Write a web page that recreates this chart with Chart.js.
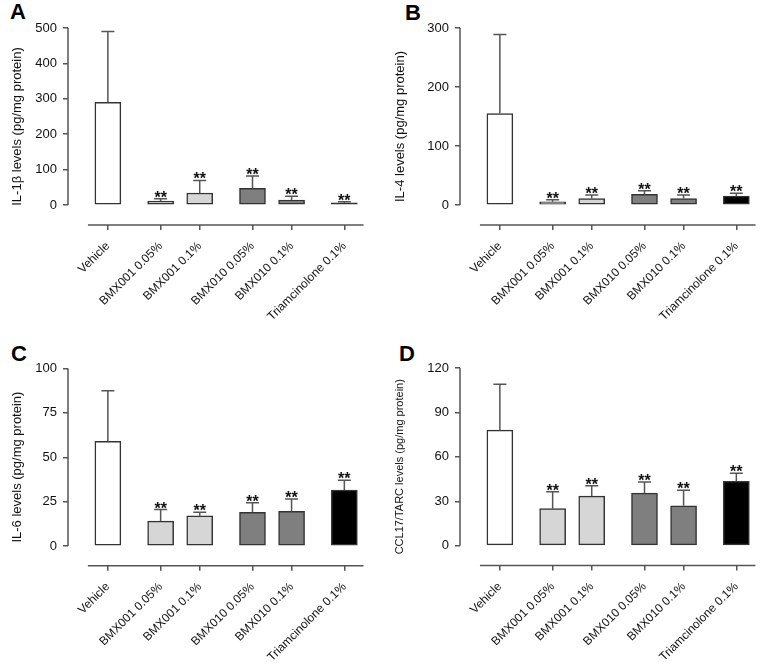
<!DOCTYPE html>
<html>
<head>
<meta charset="utf-8">
<script src="https://cdn.jsdelivr.net/npm/chart.js@4.4.0/dist/chart.umd.min.js"></script>
<style>
  body { margin: 0; background: #fff; width: 766px; height: 666px; position: relative; overflow: hidden;
         font-family: "Liberation Sans", Arial, sans-serif; }
  canvas { position: absolute; }
  .letter { position: absolute; font-size: 22px; line-height: 22px; font-weight: bold; color: #000; }
</style>
</head>
<body>
<div class="letter" style="left:10px;top:1px">A</div>
<div class="letter" style="left:405px;top:2px">B</div>
<div class="letter" style="left:11px;top:343px">C</div>
<div class="letter" style="left:399px;top:343px">D</div>
<canvas id="chartA" width="383" height="333" style="left:0;top:0"></canvas>
<canvas id="chartB" width="383" height="333" style="left:383px;top:0"></canvas>
<canvas id="chartC" width="383" height="333" style="left:0;top:333px"></canvas>
<canvas id="chartD" width="383" height="333" style="left:383px;top:333px"></canvas>
<script>
const categories = ['Vehicle', 'BMX001 0.05%', 'BMX001 0.1%', 'BMX010 0.05%', 'BMX010 0.1%', 'Triamcinolone 0.1%'];
// treatment group of each category (bars of one group sit closer together)
const groups = [0, 1, 1, 2, 2, 3];
const stars = ['', '**', '**', '**', '**', '**'];

const il1bMean = [290, 11, 34, 47, 14, 6];
const il1bErr  = [200, 7, 35.5, 35, 10.5, 3];
const il4Mean  = [155, 5.5, 11, 18, 11, 15];
const il4Err   = [134, 3.5, 6, 6, 6, 5];
const il6Mean  = [59, 14, 17, 19, 19.5, 31.5];
const il6Err   = [28.5, 6.5, 2, 5.4, 7, 5.6];
const ccl17Mean = [78, 25, 33.5, 35.5, 27, 43.5];
const ccl17Err  = [31, 11.5, 7, 7.5, 10.5, 5.5];

const il1bTicks = [0, 100, 200, 300, 400, 500];
const il4Ticks  = [0, 100, 200, 300];
const il6Ticks  = [0, 25, 50, 75, 100];
const ccl17Ticks = [0, 30, 60, 90, 120];

const barColors = ['#ffffff', '#d6d6d6', '#d6d6d6', '#7f7f7f', '#7f7f7f', '#000000'];
const groupGap = 0.35;
const xPos = categories.map((c, i) => i + groups[i] * groupGap);

const extras = {
  id: 'extras',
  afterDatasetsDraw(chart) {
    const p = chart.options.plugins.extras;
    const {ctx, chartArea} = chart;
    const x = chart.scales.x, y = chart.scales.y;
    ctx.save();
    ctx.strokeStyle = '#555';
    ctx.lineWidth = 1.5;
    ctx.beginPath();
    ctx.moveTo(chartArea.left, y.getPixelForValue(0));
    ctx.lineTo(chartArea.left, y.getPixelForValue(y.max));
    ctx.moveTo(x.getPixelForValue(-0.51), chartArea.bottom);
    ctx.lineTo(x.getPixelForValue(x.max), chartArea.bottom);
    ctx.stroke();

    ctx.fillStyle = '#111';
    ctx.font = 'bold 16px "Liberation Sans", Arial, sans-serif';
    ctx.textAlign = 'center';
    ctx.textBaseline = 'alphabetic';
    p.means.forEach((m, i) => {
      const px = x.getPixelForValue(xPos[i]);
      const y0 = y.getPixelForValue(m);
      const y1 = y.getPixelForValue(m + p.errs[i]);
      ctx.beginPath();
      ctx.moveTo(px, y0);
      ctx.lineTo(px, y1);
      ctx.moveTo(px - 6.5, y1);
      ctx.lineTo(px + 6.5, y1);
      ctx.stroke();
      if (stars[i]) ctx.fillText(stars[i], px, y1 + 4);
    });
    ctx.restore();
  }
};

function makePanel(id, cfg) {
  const yMin = -cfg.yMax * (cfg.bottom - cfg.zero) / (cfg.zero - cfg.top);
  new Chart(document.getElementById(id), {
    type: 'bar',
    data: {
      datasets: [{
        data: categories.map((c, i) => ({x: xPos[i], y: cfg.means[i]})),
        backgroundColor: barColors,
        borderColor: '#333',
        borderWidth: 1.5,
        borderSkipped: false,
        barThickness: 26
      }]
    },
    options: {
      responsive: false,
      animation: false,
      layout: {padding: {top: cfg.top, right: 383 - cfg.right, left: 0, bottom: 0}},
      plugins: {
        legend: {display: false},
        tooltip: {enabled: false},
        extras: {means: cfg.means, errs: cfg.errs}
      },
      scales: {
        x: {
          type: 'linear',
          offset: false,
          min: -1.02,
          max: 6.54,
          afterBuildTicks: s => { s.ticks = xPos.map(v => ({value: v})); },
          afterFit: s => { s.height = 333 - cfg.bottom; },
          border: {display: false},
          grid: {offset: false, drawOnChartArea: false, drawTicks: true, tickLength: 5, color: '#555', lineWidth: 1.5},
          ticks: {
            autoSkip: false, minRotation: 45, maxRotation: 45, padding: 9,
            color: '#111', font: {size: 12, family: '"Liberation Sans", Arial, sans-serif'},
            callback: (v, i) => categories[i]
          }
        },
        y: {
          min: yMin,
          max: cfg.yMax,
          afterBuildTicks: s => { s.ticks = cfg.ticks.map(v => ({value: v})); },
          afterFit: s => { s.width = cfg.left; },
          border: {display: false},
          grid: {drawOnChartArea: false, drawTicks: true, tickLength: 5, color: '#555', lineWidth: 1.5},
          ticks: {padding: 6, color: '#111', font: {size: 13, family: '"Liberation Sans", Arial, sans-serif'}},
          title: {
            display: true, text: cfg.title, color: '#111', padding: {top: 10},
            font: {size: cfg.titleSize, family: '"Liberation Sans", Arial, sans-serif'}
          }
        }
      }
    },
    plugins: [extras]
  });
}

makePanel('chartA', {means: il1bMean, errs: il1bErr, ticks: il1bTicks, yMax: 500,
  title: 'IL-1\u03b2 levels (pg/mg protein)', titleSize: 13, left: 68, right: 363.5, top: 28, zero: 205, bottom: 225});
makePanel('chartB', {means: il4Mean, errs: il4Err, ticks: il4Ticks, yMax: 300,
  title: 'IL-4 levels (pg/mg protein)', titleSize: 13, left: 77, right: 372.5, top: 28, zero: 205, bottom: 225});
makePanel('chartC', {means: il6Mean, errs: il6Err, ticks: il6Ticks, yMax: 100,
  title: 'IL-6 levels (pg/mg protein)', titleSize: 13, left: 68, right: 363.5, top: 35.5, zero: 213, bottom: 232.7});
makePanel('chartD', {means: ccl17Mean, errs: ccl17Err, ticks: ccl17Ticks, yMax: 120,
  title: 'CCL17/TARC levels (pg/mg protein)', titleSize: 11, left: 77, right: 372.5, top: 35, zero: 212.7, bottom: 232.5});
</script>
</body>
</html>
